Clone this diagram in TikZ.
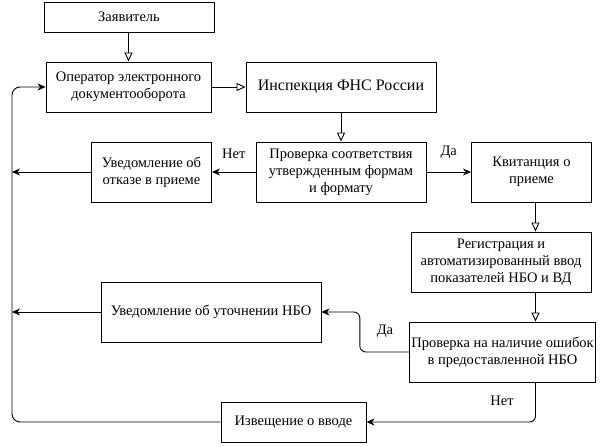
\documentclass[tikz,border=0pt]{standalone}
\usepackage{fontspec}
\setmainfont{Liberation Serif}
\usepackage{tikz}
\usetikzlibrary{arrows.meta, positioning, calc}

\begin{document}
\begin{tikzpicture}[x=1pt, y=-1pt,
  block/.style={rectangle, draw=black, line width=0.9pt, fill=white, align=center,
                font=\fontsize{14.5}{17}\selectfont, inner sep=2pt},
  flow/.style={-{Triangle[open, length=9pt, width=8pt]}, line width=0.9pt},
  arr/.style={-{Stealth[length=8pt, width=7pt, inset=2.5pt]}, line width=0.9pt},
  lbl/.style={font=\fontsize{14.5}{17}\selectfont}]

  \useasboundingbox (0,0) rectangle (603,447);

  % ── Top: applicant and operator ──────────────────────────────────
  \node[block, minimum width=170pt, minimum height=30pt] (zayav) at (129,17) {Заявитель};
  \node[block, minimum width=165pt, minimum height=50pt] (oper) at (128.5,87)
        {Оператор электронного\\документооборота};
  \node[block, minimum width=190pt, minimum height=50pt,
        font=\fontsize{16}{19}\selectfont] (insp) at (341,87) {Инспекция ФНС России};

  % ── Format check ──────────────────────────────────────────────────
  \node[block, minimum width=170pt, minimum height=60pt] (prov) at (341,172)
        {Проверка соответствия\\утвержденным формам\\и формату};
  \node[block, minimum width=120pt, minimum height=60pt] (otkaz) at (151.5,172)
        {Уведомление об\\отказе в приеме};
  \node[block, minimum width=120pt, minimum height=60pt] (kvit) at (531.5,172)
        {Квитанция о\\приеме};

  % ── Registration and error check ──────────────────────────────────
  \node[block, minimum width=180pt, minimum height=60pt] (regist) at (501,262)
        {Регистрация и\\автоматизированный ввод\\показателей НБО и ВД};
  \node[block, minimum width=183pt, minimum height=60pt] (oshib) at (502.5,352)
        {Проверка на наличие ошибок\\в предоставленной НБО};
  \node[block, minimum width=220pt, minimum height=60pt] (utoch) at (211,312)
        {Уведомление об уточнении НБО};
  \node[block, minimum width=145pt, minimum height=40pt] (izvesh) at (293.5,422)
        {Извещение о вводе};

  % ── Return line on the left ───────────────────────────────────────
  \coordinate (leftline) at (12,0);

  % ── Arrows ────────────────────────────────────────────────────────
  \draw[flow] (zayav.south -| oper.north) -- (oper.north);
  \draw[flow] (oper.east) -- (insp.west);
  \draw[flow] (insp.south) -- (prov.north);
  \draw[arr] (prov.west) -- node[lbl, midway, above=10pt] {Нет} (otkaz.east);
  \draw[arr] (prov.east) -- node[lbl, midway, above=10pt] {Да} (kvit.west);
  \draw[arr] (otkaz.west) -- (otkaz.west -| leftline);
  \draw[flow] ([xshift=4pt]kvit.south) -- ([xshift=4pt]kvit.south |- regist.north);
  \draw[flow] ([xshift=4pt]kvit.south |- regist.south) -- ([xshift=4pt]kvit.south |- oshib.north);
  \draw[arr, rounded corners=6pt] (oshib.west) -- ++(-49,0) |- (utoch.east);
  \node[lbl] (da2) at (385,331) {Да};
  \draw[arr] (utoch.west) -- (utoch.west -| leftline);
  \draw[arr, rounded corners=6pt] ([xshift=4pt]kvit.south |- oshib.south) |- (izvesh.east);
  \node[lbl] (net2) at (502,401) {Нет};
  \draw[arr, rounded corners=8pt] (izvesh.west) -- (izvesh.west -| leftline)
        -- (oper.west -| leftline) -- (oper.west);

\end{tikzpicture}
\end{document}
